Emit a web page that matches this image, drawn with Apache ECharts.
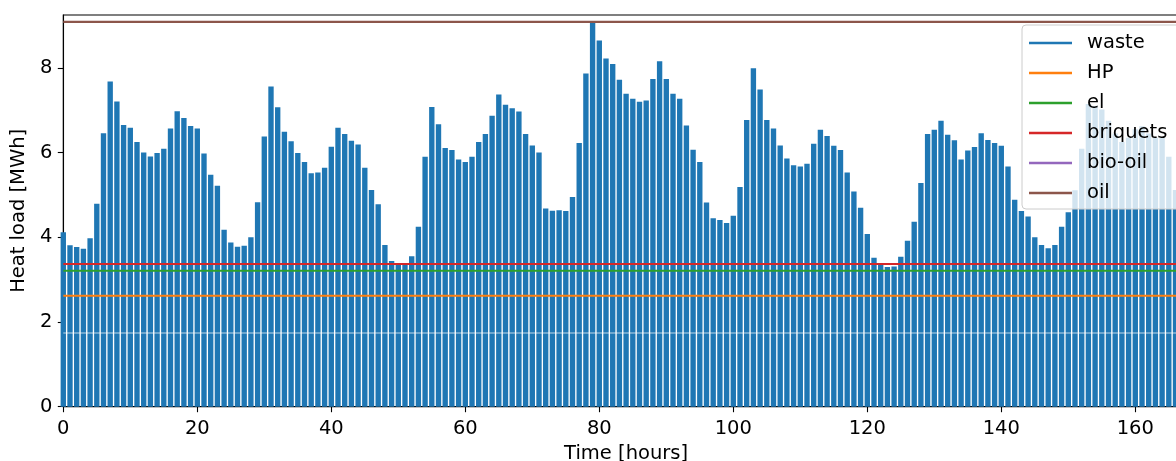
<!DOCTYPE html>
<html>
<head>
<meta charset="utf-8">
<script src="https://cdn.jsdelivr.net/npm/echarts@6/dist/echarts.min.js"></script>
<style>
html,body{margin:0;padding:0;background:#fff;}
#chart{width:1176px;height:461px;}
</style>
</head>
<body>
<div id="chart"></div>
<script>
// Hourly heat load of the "waste" unit [MWh], hour 0..166
const waste = [
 4.12,3.81,3.77,3.73,3.98,4.79,6.46,7.68,7.21,6.65,
 6.59,6.25,6.00,5.91,5.99,6.09,6.57,6.98,6.82,6.63,
 6.57,5.98,5.48,5.22,4.18,3.88,3.78,3.80,4.00,4.83,
 6.38,7.56,7.07,6.49,6.27,5.99,5.78,5.51,5.53,5.64,
 6.14,6.59,6.44,6.28,6.19,5.64,5.12,4.78,3.82,3.44,
 3.39,3.36,3.55,4.25,5.90,7.08,6.67,6.11,6.06,5.84,
 5.78,5.90,6.25,6.44,6.87,7.37,7.13,7.05,6.97,6.44,
 6.17,6.00,4.68,4.63,4.64,4.62,4.95,6.23,7.87,9.06,
 8.65,8.22,8.09,7.72,7.39,7.27,7.20,7.23,7.74,8.16,
 7.74,7.39,7.27,6.64,6.07,5.78,4.82,4.45,4.41,4.34,
 4.51,5.19,6.77,7.99,7.49,6.77,6.57,6.17,5.86,5.70,
 5.67,5.74,6.21,6.54,6.39,6.16,6.06,5.53,5.08,4.70,
 4.08,3.52,3.35,3.30,3.31,3.54,3.92,4.37,5.28,6.44,
 6.54,6.75,6.42,6.29,5.84,6.05,6.13,6.46,6.30,6.23,
 6.16,5.67,4.89,4.62,4.49,4.00,3.82,3.74,3.82,4.25,
 4.59,5.11,6.09,7.15,7.10,7.02,6.75,6.45,6.25,6.35,
 6.55,6.62,6.45,6.35,6.35,5.90,5.12
];
// Capacity levels (constant horizontal lines) [MWh]
const seriesNames = ['waste','HP','el','briquets','bio-oil','oil'];
const levelHP = 2.62;
const levelEl = 3.21;
const levelBriquets = 3.37;
const levelBioOil = null;   // not visible in the figure
const levelOil = 9.09;
const stackSplit = 1.74;    // white seam visible across all bars
const xTicks = [0,20,40,60,80,100,120,140,160];
const yTicks = [0,2,4,6,8];
const xMax = 168;
const yMax = 9.25;

const colors = {waste:'#1f77b4',HP:'#ff7f0e',el:'#2ca02c',briquets:'#d62728','bio-oil':'#9467bd',oil:'#8c564b'};
const hours = waste.map((v,i)=>i);
const flat = lvl => lvl==null ? [] : hours.concat([xMax]).map(h=>[h,lvl]);

const FONT = 'DejaVu Sans';
const FS = 19.5;

function lineSeries(name, lvl, color){
  return {name, type:'line', data:flat(lvl), showSymbol:false, symbol:'none', silent:true,
    lineStyle:{color, width:2.2}, itemStyle:{color}, animation:false, z:5, clip:true};
}

const chart = echarts.init(document.getElementById('chart'), null, {renderer:'canvas'});
chart.setOption({
  animation:false,
  textStyle:{fontFamily:FONT},
  grid:{left:63.3, top:15, right:-12.9, bottom:54.3, outerBoundsMode:'none', containLabel:false,
    show:true, borderColor:'#000', borderWidth:1.1, backgroundColor:'transparent'},
  legend:{
    data: seriesNames.map(n=>({name:n, icon:'rect'})),
    orient:'vertical', left:1022, top:25,
    itemWidth:43, itemHeight:2.4, itemGap:10.0,
    padding:[8,30,6,7],
    backgroundColor:'rgba(255,255,255,0.8)', borderColor:'#cccccc', borderWidth:1, borderRadius:4,
    textStyle:{fontFamily:FONT, fontSize:FS, color:'#000', padding:[0,0,0,10]},
    selectedMode:false
  },
  xAxis:{
    type:'value', min:0, max:xMax, interval:20,
    name:'Time [hours]', nameLocation:'middle', nameGap:37,
    nameTextStyle:{fontFamily:FONT, fontSize:FS, color:'#000'},
    axisLine:{show:true, onZero:false, lineStyle:{color:'#000', width:1.1}},
    axisTick:{show:true, length:5.5, customValues:xTicks, lineStyle:{color:'#000', width:1.1}},
    axisLabel:{fontFamily:FONT, fontSize:FS, color:'#000', margin:12, customValues:xTicks},
    splitLine:{show:false}
  },
  yAxis:{
    type:'value', min:0, max:yMax, interval:2,
    name:'Heat load [MWh]', nameLocation:'middle', nameGap:31, nameRotate:90,
    nameTextStyle:{fontFamily:FONT, fontSize:FS, color:'#000'},
    axisLine:{show:true, lineStyle:{color:'#000', width:1.1}},
    axisTick:{show:true, length:5.5, customValues:yTicks, lineStyle:{color:'#000', width:1.1}},
    axisLabel:{fontFamily:FONT, fontSize:FS, color:'#000', margin:11, customValues:yTicks},
    splitLine:{show:false}
  },
  series:[
    {name:'waste', type:'bar', data:waste.map((v,i)=>[hours[i],v]), barWidth:5.36,
      itemStyle:{color:colors.waste}, clip:true, z:2, animation:false},
    {name:'_seam', type:'line', data:flat(stackSplit), symbol:'none', silent:true,
      lineStyle:{color:'rgba(255,255,255,0.7)', width:1.2}, z:3},
    lineSeries('HP', levelHP, colors.HP),
    lineSeries('el', levelEl, colors.el),
    lineSeries('briquets', levelBriquets, colors.briquets),
    lineSeries('bio-oil', levelBioOil, colors['bio-oil']),
    lineSeries('oil', levelOil, colors.oil)
  ]
});
</script>
</body>
</html>
